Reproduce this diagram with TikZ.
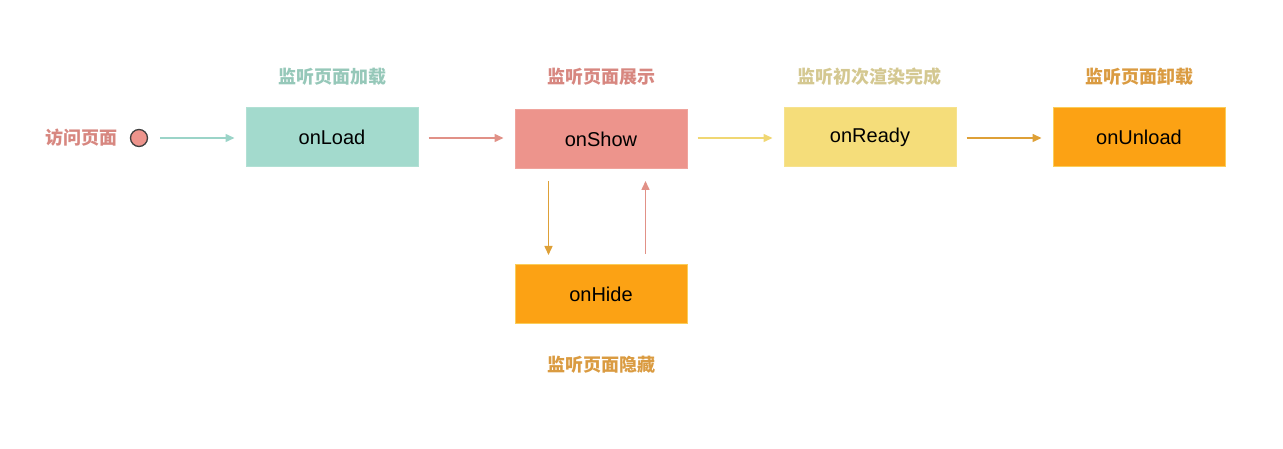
\documentclass[tikz,border=0pt]{standalone}
\usepackage{fontspec}
\setmainfont{Liberation Sans}
\newfontfamily\cjk{Noto Sans CJK SC}
\usetikzlibrary{arrows.meta}
\definecolor{tealf}{RGB}{163,218,205}
\definecolor{teall}{RGB}{150,200,185}
\definecolor{teala}{RGB}{155,212,200}
\definecolor{pinkf}{RGB}{237,148,140}
\definecolor{pinkl}{RGB}{215,135,128}
\definecolor{pinka}{RGB}{225,145,135}
\definecolor{yelf}{RGB}{245,221,122}
\definecolor{yell}{RGB}{212,200,145}
\definecolor{yela}{RGB}{240,215,115}
\definecolor{orf}{RGB}{252,162,20}
\definecolor{orb}{RGB}{250,205,90}
\definecolor{orl}{RGB}{218,155,65}
\definecolor{ora}{RGB}{222,160,55}
\begin{document}
\begin{tikzpicture}[x=1pt,y=-1pt,
  box/.style={minimum width=172pt,minimum height=59pt,inner sep=0pt,font=\fontsize{20}{24}\selectfont,line width=1pt},
  lbl/.style={font=\cjk\bfseries\fontsize{18}{22}\selectfont,inner sep=0pt},
  arr/.style={line width=1.5pt,-{Triangle[length=9pt,width=8pt]}}]
\useasboundingbox (0,0) rectangle (1283,449);
\node[lbl,text=pinkl,anchor=east] (visit) at (118,138) {访问页面};
\node[circle,draw=black!75,fill=pinkf,line width=1.3pt,minimum size=17pt,inner sep=0pt] (start) at (139,138) {};
\node[box,fill=tealf,draw=tealf!85!white] (load) at (332,137.5) {onLoad};
\node[box,fill=pinkf,draw=pinkf!85!white] (show) at (601,139) {onShow};
\node[box,fill=yelf,draw=yelf!85!white] (ready) at (870,137.5) {onReady};
\node[box,fill=orf,draw=orb] (unload) at (1139,137.5) {onUnload};
\node[box,fill=orf,draw=orb] (hide) at (601,294) {onHide};
\node[lbl,text=teall] (lload) at (332,77) {监听页面加载};
\node[lbl,text=pinkl] (lshow) at (601,77) {监听页面展示};
\node[lbl,text=yell] (lready) at (869,77) {监听初次渲染完成};
\node[lbl,text=orl] (lunload) at (1139,77) {监听页面卸载};
\node[lbl,text=orl] (lhide) at (601,365) {监听页面隐藏};
\draw[arr,teala,shorten <=12pt,shorten >=11pt] (start) -- (load.west |- start);
\draw[arr,pinka,shorten <=10pt,shorten >=11pt] (load.east |- start) -- (show.west |- start);
\draw[arr,yela,shorten <=10pt,shorten >=11pt] (show.east |- start) -- (ready.west |- start);
\draw[arr,ora,shorten <=10pt,shorten >=11pt] (ready.east |- start) -- (unload.west |- start);
\coordinate (sd) at ([xshift=34pt]show.south west);
\coordinate (hu) at ([xshift=-42pt]hide.north east);
\draw[arr,ora,shorten <=12pt,shorten >=9pt] (sd) -- (sd |- hide.north);
\draw[arr,pinka,shorten <=10pt,shorten >=12pt] (hu) -- (hu |- show.south);
\end{tikzpicture}
\end{document}
